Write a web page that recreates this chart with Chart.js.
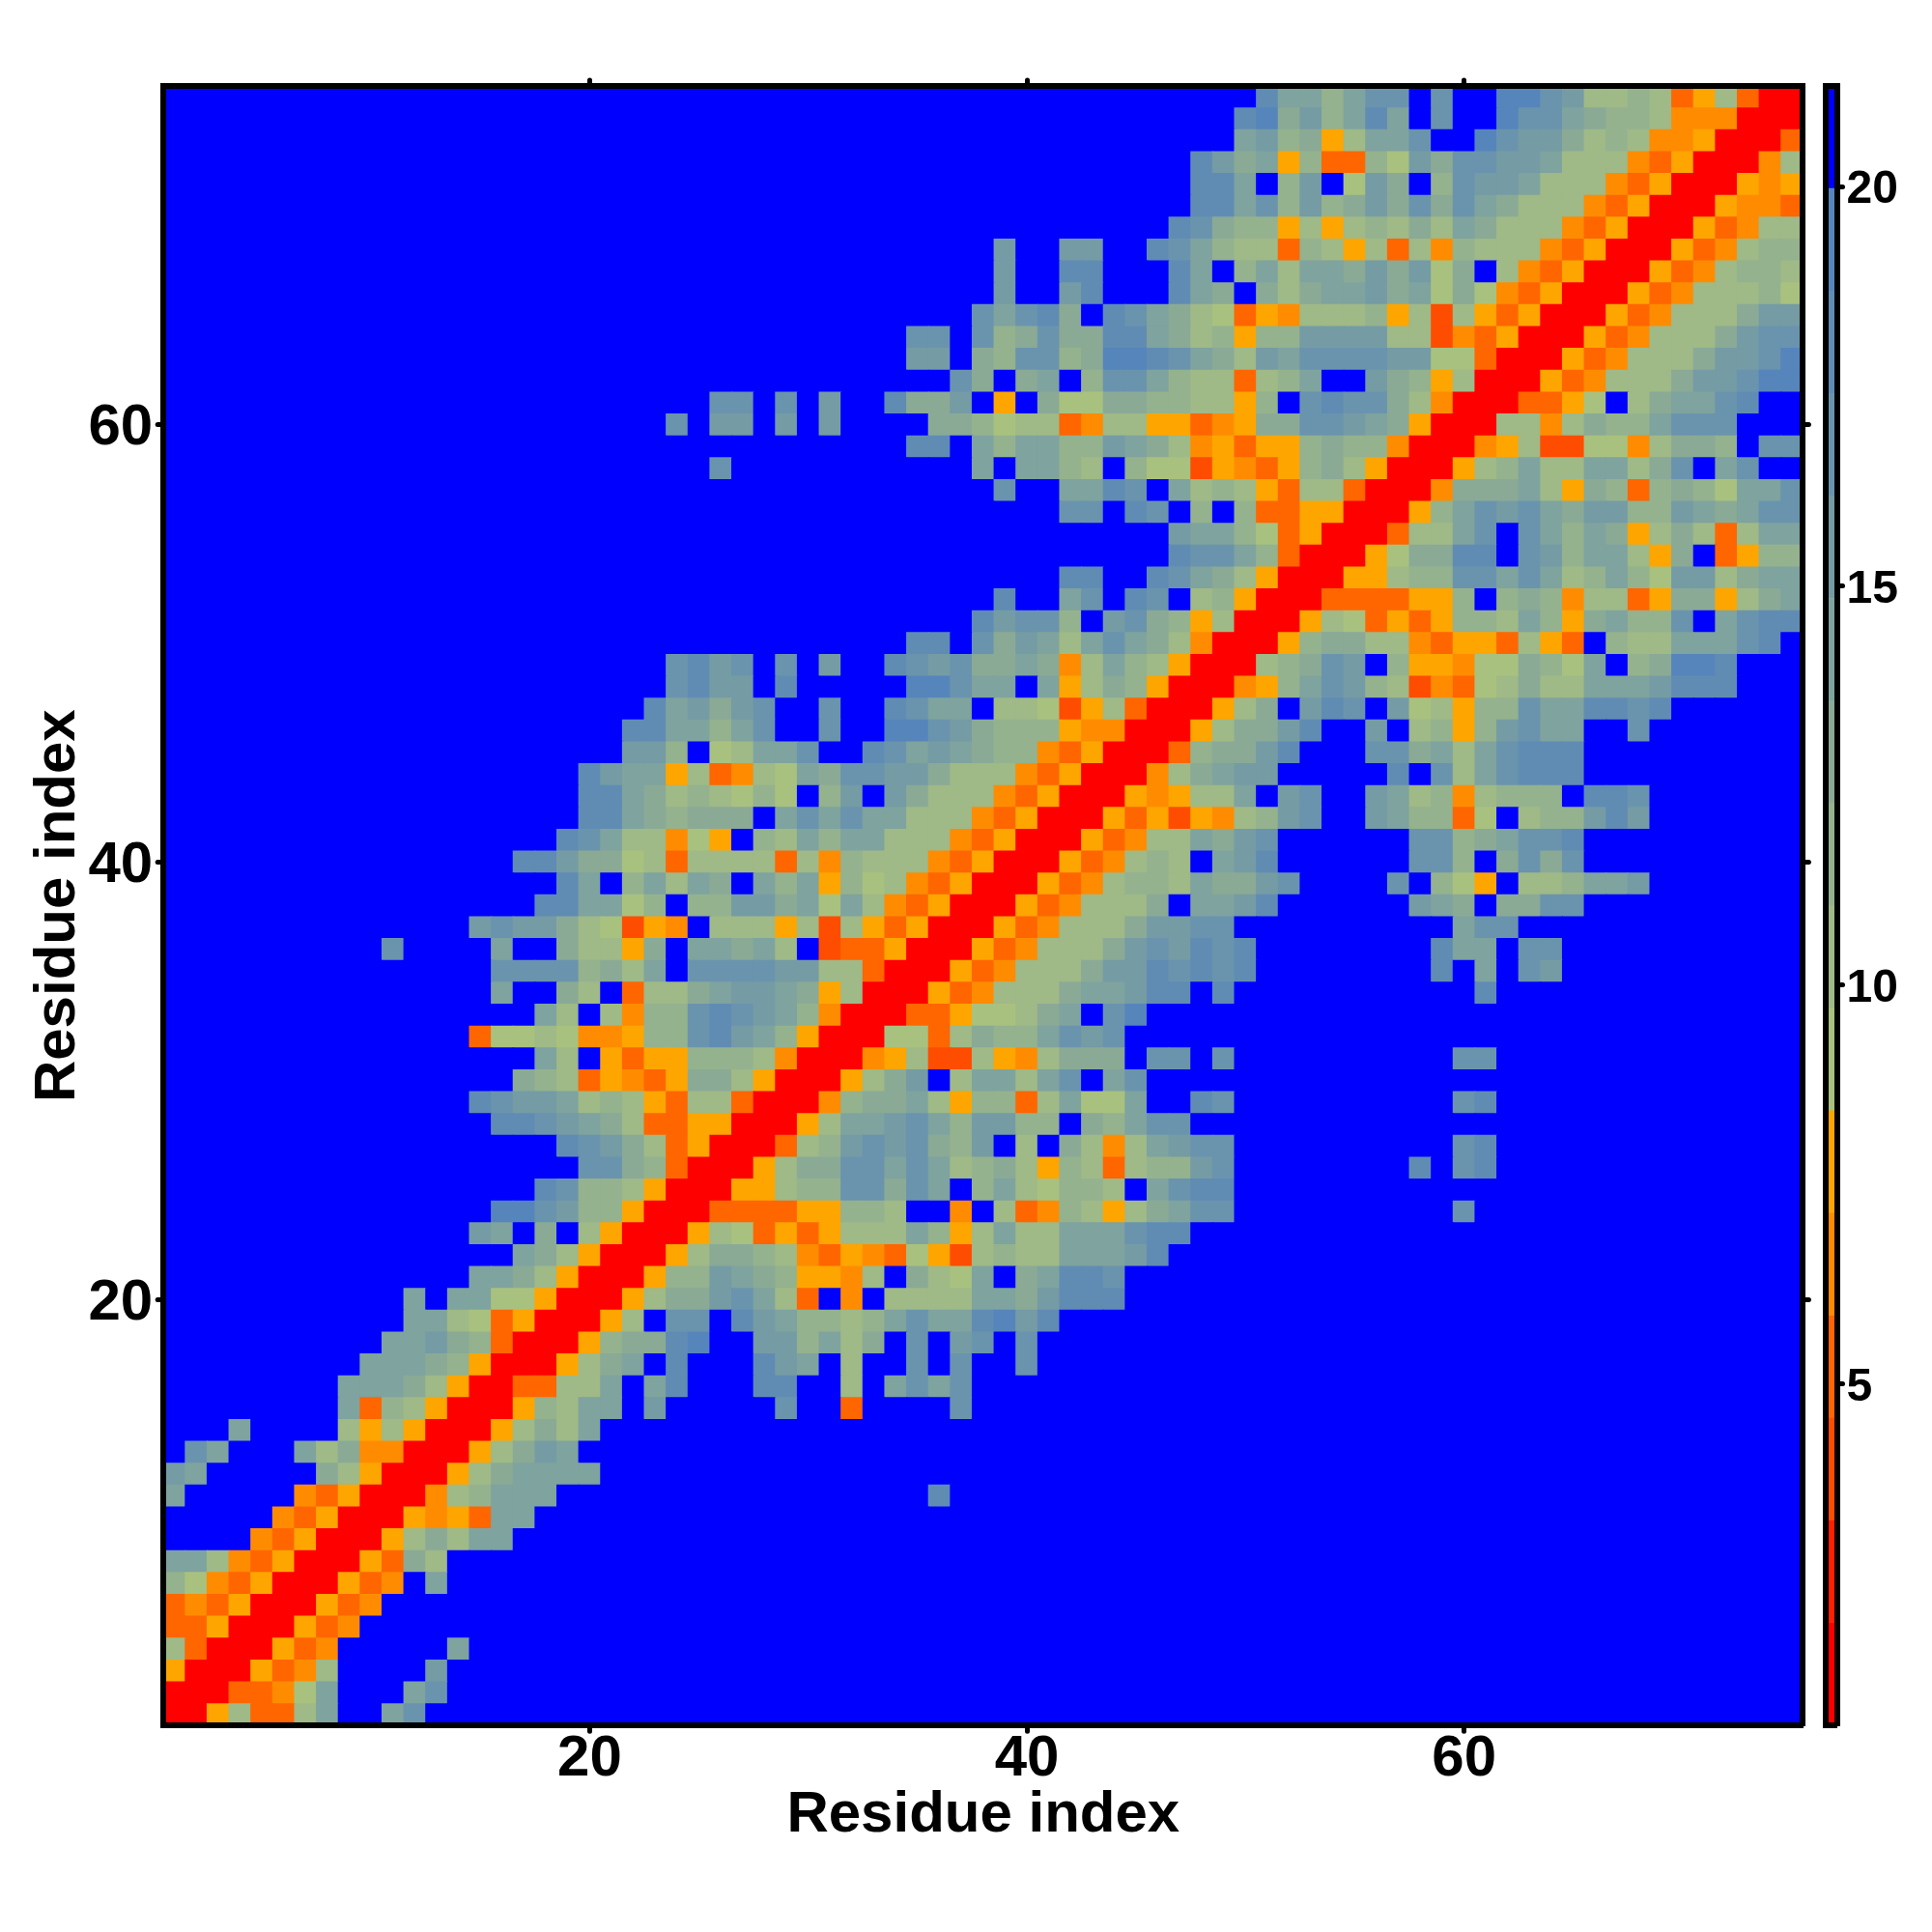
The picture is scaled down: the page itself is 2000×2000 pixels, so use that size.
<!DOCTYPE html>
<html>
<head>
<meta charset="utf-8">
<script src="https://cdn.jsdelivr.net/npm/chart.js@4"></script>
<style>
  html, body { margin: 0; background: #fff; }
  #wrap { position: relative; width: 2000px; height: 2000px; }
  canvas { position: absolute; top: 0; }
</style>
</head>
<body>
<div id="wrap">
  <canvas id="map" width="2000" height="2000" style="left:0"></canvas>
  <canvas id="bar" width="140" height="2000" style="left:1860px"></canvas>
</div>
<script>
// tick labels
var xTicks = [20, 40, 60];
var yTicks = [20, 40, 60];
var barTicks = [5, 10, 15, 20];
var axisName = "Residue index";

// colour bar range, 16 equal bands
var barMin = 0.72;
var barMax = 21.26;
var bandColors = ["#FF0000", "#FF2000", "#FF4D00", "#FF6600", "#FF8C00", "#FFA500",
  "#A9C17F", "#9FB987", "#94B28E", "#8AAA96", "#7FA39E", "#759BA5", "#6A94AD", "#608CB4", "#5685BC", "#0000FF"];

// one string per row, y = 75 first, y = 1 last. each hex digit is the band of the cell, x = 1..75
var distanceRows = [
"fffff fffff fffff fffff fffff fffff fffff fffff fffff fffff daa8a ccfcf feecb 77873 57300",
"fffff fffff fffff fffff fffff fffff fffff fffff fffff ffffd e9b8a dafcf fecca 98874 44000",
"fffff fffff fffff fffff fffff fffff fffff fffff fffff ffffa b8957 aacff ecbb9 78744 50003",
"fffff fffff fffff fffff fffff fffff fffff fffff fffff ffdb9 a5833 86b9c cbba7 77435 00047",
"fffff fffff fffff fffff fffff fffff fffff fffff fffff ffdda f8bf6 b9f8c bba77 74350 00545",
"fffff fffff fffff fffff fffff fffff fffff fffff fffff ffdda c8b89 b9c9c a9777 43500 05443",
"fffff fffff fffff fffff fffff fffff fffff fffff fffff fdc98 85757 8797a 97774 35000 53477",
"fffff fffff fffff fffff fffff fffff fffff fffbf fbbff dca87 73875 73748 77743 50005 34788",
"fffff fffff fffff fffff fffff fffff fffff fffbf fddff fdaf8 a7aa9 b9b69 f7435 00053 47887",
"fffff fffff fffff fffff fffff fffff fffff fffbf fbdff fda9f 979aa b9a69 64350 00534 77786",
"fffff fffff fffff fffff fffff fffff fffff ffcac d9fdc a9763 54777 85727 53500 05347 779bb",
"fffff fffff fffff fffff fffff fffff ffffc cfc89 c99dd a9785 88bbb b7724 35000 53477 79bcc",
"fffff fffff fffff fffff fffff fffff ffffb bf98c c89ee dca97 baccc cbb66 30005 34777 9bbce",
"fffff fffff fffff fffff fffff fffff fffff fc9f9 af8cc a8773 78aff b9857 00053 47779 bbcee",
"fffff fffff fffff fffff fffff ccfcf bffd9 9bf5f 96699 88775 8fcdc c9740 00335 6f79a acdff",
"fffff fffff fffff fffff fffcf bbfbf bffff 99867 73477 55345 99ccb a9500 07747 988ac ccfff",
"fffff fffff fffff fffff fffff fffff ffffd dfa8a a88ba 97453 55898 84000 45722 66479 98fcc",
"fffff fffff fffff fffff fffff cffff fffff ffafa a87f8 66254 35897 50005 78a77 aa79c facff",
"fffff fffff fffff fffff fffff fffff fffff fffcf faadc fa787 53773 00049 99a75 98389 86aac",
"fffff fffff fffff fffff fffff fffff fffff fffff fccfd cf8f8 33550 0058a cbca9 bb88b a9acc",
"fffff fffff fffff fffff fffff fffff fffff fffff fffff fbaa8 63500 0377a cfca8 a9579 737aa",
"fffff fffff fffff fffff fffff fffff fffff fffff fffff fdcca 83000 5699d dfcb8 aa759 f3588",
"fffff fffff fffff fffff fffff fffff fffff fffff fddff dca97 50005 5788c caca7 8a86b b79aa",
"fffff fffff fffff fffff fffff fffff fffff fffdf facfd cf785 00033 33558 f8984 77359 9579a",
"fffff fffff fffff fffff fffff fffff fffff ffdbc c8fbc 98570 00576 35358 87a85 9a88c facdd",
"fffff fffff fffff fffff fffff fffff ffffd dfc9b a7aca 97400 05899 77435 53753 f877a aacdf",
"fffff fffff fffff fffff fffcd bcfcf bffdc bc99a 947a8 75000 789cb f8554 66986 af89e edfff",
"fffff fffff fffff fffff fffcd bbfdf ffffe ecaaf a5798 50004 58acb 87243 67977 aaabd ddfff",
"fffff fffff fffff fffff ffdab 9bcff cffdc aaf77 62573 00057 9fbdc fb675 88caa ddcdf fffff",
"fffff fffff fffff fffff fddaa 8acff cffee cb988 85440 00579 9bdff bf785 8bcaa ffcff fffff",
"fffff fffff fffff fffff fbb8f 67aac ffdca ba988 43500 03899 bdfff cc9a7 acddd fffff fffff",
"fffff fffff fffff ffffd baa57 3476a 9ccbb 97774 35000 479ab bffff fdfc7 acddd fffff fffff",
"fffff fffff fffff ffffd da978 7686f 8bfb9 77743 50005 4577a fbcff ba784 7888f ddcff fffff",
"fffff fffff fffff ffffd da989 99fac acaa7 77435 00053 52547 8bcff ba883 6f788 bdbff fffff",
"fffff fffff fffff fffdc a7746 5f87a 8aa77 74350 00534 77a9b cffff ffcc8 9accd fffff fffff",
"fffff fffff fffff fddb9 96737 77737 48777 43500 05347 87fab dffff ffcc8 f9c9c fffff fffff",
"fffff fffff fffff fffda f8a7a 9fa8a 58674 35000 53478 87a99 bcfff fcf86 5f778 aabff fffff",
"fffff fffff fffff ffdda a68f8 8bb9a 6a743 50005 34777 9faab dffff ffba9 f99cc fffff fffff",
"fffff fffff ffffb cbb97 6254f 77757 27535 00053 47779 bbccf fffff ffffa ccfff fffff fffff",
"fffff fffff cffff aff97 759fa a9a7f 23350 00534 7779b cbdcd fffff fffda afccf fffff fffff",
"fffff fffff fffff cccc8 97afc cccbb 77300 05347 779bb dcdcd fffff fffdf afcbf fffff fffff",
"fffff fffff fffff aff97 f3779 abba9 57000 53477 79aab ddfdf fffff fffff dffff fffff fffff",
"fffff fffff fffff ffa7f 7488c dcba8 40003 35667 9afce fffff fffff fffff fffff fffff fffff",
"fffff fffff ffff3 66764 4588c dba85 00066 37988 acbcf fffff fffff fffff fffff fffff fffff",
"fffff fffff fffff ffa7f 53558 88740 00457 22754 7999f ccfcf fffff ffffc cffff fffff fffff",
"fffff fffff fffff f9873 54359 97500 0579b f7aa7 acfac fffff fffff fffff fffff fffff fffff",
"fffff fffff ffffd cbba7 87537 73000 4899a 75883 7a66a ffdcf fffff ffffc dffff fffff fffff",
"fffff fffff fffff ddcba 97335 50005 7aabc a8bb8 8f98a ccfff fffff fffff fffff fffff fffff",
"fffff fffff fffff fffdc b9735 00037 8bcbc 98bf7 f9747 abccf fffff ffffc dffff fffff fffff",
"fffff fffff fffff ffffc c9830 00579 9ccac a7897 58737 88bcf fffff ffdfc dffff fffff fffff",
"fffff fffff fffff ffdc8 87500 05578 8cc9c af8a7 6887f acddf fffff fffff fffff fffff fffff",
"fffff fffff fffff eecb8 85000 33335 5887f f4f73 48757 9accf fffff ffffc fffff fffff fffff",
"fffff fffff ffffb af9f7 50005 76353 5777a 857a7 7aaac ddfff fffff fffff fffff fffff fffff",
"fffff fffff fffff fa975 00057 99874 35436 52787 7aaab dffff fffff fffff fffff fffff fffff",
"fffff fffff ffffa a9750 00588 ba985 547f9 76af9 addcf fffff fffff fffff fffff fffff fffff",
"fffff fffff fafaa 66500 05799 bca73 f4f77 77aa9 bdddf fffff fffff fffff fffff fffff fffff",
"fffff fffff faa76 35000 57fcc fdba8 878ac aadeb dffff fffff fffff fffff fffff fffff fffff",
"fffff fffff aab98 30005 899de ffbb8 a79fc fbcfc fffff fffff fffff fffff fffff fffff fffff",
"fffff ffffa aa985 00057 9afdf ffdba f7ffc fcffc fffff fffff fffff fffff fffff fffff fffff",
"fffff fffaa a9750 03377 afadf ffddf f7fac acfff fffff fffff fffff fffff fffff fffff fffff",
"fffff fffa3 87500 0587a afbff fffcf f3fff fcfff fffff fffff fffff fffff fffff fffff fffff",
"fffaf fff75 75000 5797a fffff fffff fffff fffff fffff fffff fffff fffff fffff fffff fffff",
"fcaff fa794 40005 79baf fffff fffff fffff fffff fffff fffff fffff fffff fffff fffff fffff",
"bafff ff975 00057 9aaaa fffff fffff fffff fffff fffff fffff fffff fffff fffff fffff fffff",
"affff f4350 00478 aaaff fffff fffff fffff dffff fffff fffff fffff fffff fffff fffff fffff",
"fffff 43500 05453 aafff fffff fffff fffff fffff fffff fffff fffff fffff fffff fffff fffff",
"ffff4 35000 5797a affff fffff fffff fffff fffff fffff fffff fffff fffff fffff fffff fffff",
"aa743 50005 397ff fffff fffff fffff fffff fffff fffff fffff fffff fffff fffff fffff fffff",
"86435 00053 4faff fffff fffff fffff fffff fffff fffff fffff fffff fffff fffff fffff fffff",
"34350 00534 fffff fffff fffff fffff fffff fffff fffff fffff fffff fffff fffff fffff fffff",
"33500 0534f fffff fffff fffff fffff fffff fffff fffff fffff fffff fffff fffff fffff fffff",
"73000 534ff fffaf fffff fffff fffff fffff fffff fffff fffff fffff fffff fffff fffff fffff",
"50005 347ff ffbff fffff fffff fffff fffff fffff fffff fffff fffff fffff fffff fffff fffff",
"00033 46aff facff fffff fffff fffff fffff fffff fffff fffff fffff fffff fffff fffff fffff",
"00573 37aff acfff fffff fffff fffff fffff fffff fffff fffff fffff fffff fffff fffff fffff"
];

Chart.defaults.font.family = "'Liberation Sans'";
Chart.defaults.font.weight = "bold";
Chart.defaults.color = "#000";
Chart.defaults.animation = false;

var bandStep = (barMax - barMin) / bandColors.length;

function valueOf(band) {
  return barMin + (band + 0.5) * bandStep;
}
function colorOf(v) {
  return bandColors[Math.floor((v - barMin) / bandStep)];
}

var cells = [];
distanceRows.forEach(function (row, r) {
  row.replace(/ /g, "").split("").forEach(function (c, i) {
    cells.push({ x: i + 1, y: 75 - r, v: valueOf(parseInt(c, 16)) });
  });
});

// tick ends are round, the frame is drawn after the datasets with square ends
var roundCaps = {
  id: "roundCaps",
  beforeDraw: function (chart) { chart.ctx.lineCap = "round"; },
  afterDatasetsDraw: function (chart) { chart.ctx.lineCap = "butt"; }
};

function frameAxis(position, min, max, tickValues, size, extra) {
  var axis = {
    type: "linear",
    position: position,
    min: min,
    max: max,
    afterBuildTicks: function (scale) {
      scale.ticks = tickValues.map(function (v) { return { value: v }; });
    },
    afterFit: function (scale) {
      if (scale.isHorizontal()) scale.height = size; else scale.width = size;
    },
    grid: { drawOnChartArea: false, tickLength: 6, tickWidth: 5, tickColor: "#000" },
    border: { display: true, width: 6, color: "#000", z: 1 },
    ticks: { display: false }
  };
  return Object.assign(axis, extra || {});
}

var mapTickFont = { size: 60, weight: "bold" };
var titleFont = { size: 60, weight: "bold" };

new Chart(document.getElementById("map"), {
  type: "scatter",
  data: {
    datasets: [{
      data: cells,
      clip: 0,
      pointStyle: "rect",
      borderWidth: 0,
      pointRadius: function (ctx) {
        return ctx.chart.scales.x.width / 75 * Math.SQRT1_2 + 0.75;
      },
      backgroundColor: function (ctx) {
        return ctx.raw ? colorOf(ctx.raw.v) : bandColors[15];
      }
    }]
  },
  options: {
    responsive: false,
    devicePixelRatio: 1,
    layout: { autoPadding: false, padding: 0 },
    plugins: { legend: { display: false }, tooltip: { enabled: false } },
    scales: {
      x: frameAxis("bottom", 0.5, 75.5, xTicks, 213.7, {
        ticks: { display: true, font: mapTickFont, padding: -7, maxRotation: 0, autoSkip: false },
        title: { display: true, text: axisName, font: titleFont, padding: { top: 0, bottom: 85 } }
      }),
      xTop: frameAxis("top", 0.5, 75.5, xTicks, 89.1),
      y: frameAxis("left", 0.5, 75.5, yTicks, 169.2, {
        ticks: { display: true, font: mapTickFont, padding: 5, labelOffset: 4, maxRotation: 0, autoSkip: false },
        title: { display: true, text: axisName, font: titleFont, padding: { top: 24, bottom: 0 } }
      }),
      yRight: frameAxis("right", 0.5, 75.5, yTicks, 133.6)
    }
  },
  plugins: [roundCaps]
});

// colour bar
var barLabels = [""];
var barSets = bandColors.map(function (color, i) {
  return {
    data: [[barMin + i * bandStep, barMin + (i + 1) * bandStep]],
    backgroundColor: color,
    borderWidth: 0,
    barPercentage: 1,
    categoryPercentage: 1,
    grouped: false
  };
});

new Chart(document.getElementById("bar"), {
  type: "bar",
  data: { labels: barLabels, datasets: barSets },
  options: {
    responsive: false,
    devicePixelRatio: 1,
    layout: { autoPadding: false, padding: 0 },
    plugins: { legend: { display: false }, tooltip: { enabled: false } },
    scales: {
      x: {
        type: "category",
        position: "bottom",
        afterFit: function (scale) { scale.height = 213.7; },
        grid: { display: false },
        border: { display: true, width: 6, color: "#000", z: 1 },
        ticks: { display: false }
      },
      xTop: {
        type: "category",
        position: "top",
        labels: barLabels,
        afterFit: function (scale) { scale.height = 89.1; },
        grid: { display: false },
        border: { display: true, width: 6, color: "#000", z: 1 },
        ticks: { display: false }
      },
      yLeft: frameAxis("left", barMin, barMax, [], 29.5, { grid: { display: false } }),
      y: frameAxis("right", barMin, barMax, barTicks, 98.5, {
        ticks: { display: true, font: { size: 48, weight: "bold" }, padding: 4, labelOffset: 4, autoSkip: false, maxRotation: 0 }
      })
    }
  },
  plugins: [roundCaps]
});
</script>
</body>
</html>
